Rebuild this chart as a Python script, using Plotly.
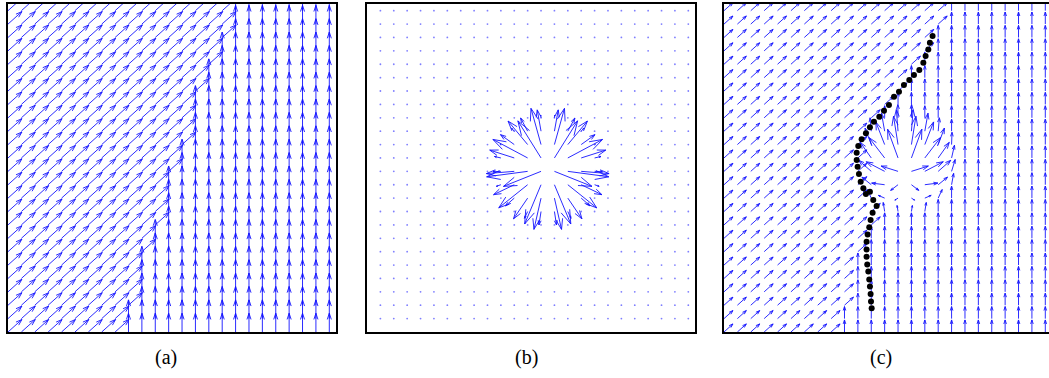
import numpy as np
import plotly.graph_objects as go

# ---------------------------------------------------------------------------
# Data
# ---------------------------------------------------------------------------
# sample lattice of the two-phase flow fields (a) and (c)
grid_x = np.arange(0, 25)
grid_y = np.arange(0, 25)
# sample lattice of the radial source field (b)
grid_xb = np.arange(1, 25)
grid_yb = np.arange(1, 25)

# direction of the slanted flow (degrees)
slant_angle = 42.0
# columns 9..16: height up to which the flow is upright (columns >= 17 fully upright)
upright_cols = [9, 10, 11, 12, 13, 14, 15, 16]
upright_top = [2.9, 6.1, 8.9, 12.1, 14.9, 18.1, 20.6, 22.3]

# radial source: centre and vector length versus distance from the centre
source_center = (13.5, 12.2)
radial_r = [0.0, 0.5, 1.0, 1.5, 2.0, 2.5, 3.0, 3.5, 4.0]
radial_len = [0.0, 3.0, 3.3, 3.1, 2.7, 2.1, 1.4, 0.6, 0.0]
radial_weight_c = 0.45

# evolved contour drawn on panel (c)
contour_x = [15.58, 15.38, 15.26, 15.06, 14.89, 14.59, 14.19, 13.84, 13.44, 13.07,
             12.70, 12.32, 11.95, 11.60, 11.20, 10.90, 10.60, 10.28, 10.03, 9.91,
             9.91, 9.98, 10.08, 10.21, 10.41, 10.60, 10.90, 11.15, 11.40, 11.10,
             10.95, 10.85, 10.73, 10.65, 10.65, 10.65, 10.70, 10.78, 10.85, 10.90,
             10.95, 10.98, 11.03]
contour_y = [22.11, 21.61, 21.11, 20.61, 20.11, 19.57, 19.19, 18.82, 18.45, 17.95,
             17.58, 16.95, 16.53, 16.08, 15.71, 15.29, 14.84, 14.39, 13.89, 13.39,
             12.85, 12.35, 11.80, 11.23, 10.73, 10.31, 10.48, 9.86, 9.41, 8.91,
             8.36, 7.82, 7.29, 6.75, 6.17, 5.63, 5.05, 4.51, 3.93, 3.39,
             2.84, 2.27, 1.77]

panel_labels = ["(a)", "(b)", "(c)"]

# ---------------------------------------------------------------------------
# Field construction
# ---------------------------------------------------------------------------
cx_arr = np.array(contour_x)
cy_arr = np.array(contour_y)
ang = np.deg2rad(slant_angle)
slant = np.array([np.cos(ang), np.sin(ang)])


def is_upright(x, y):
    if x >= 17:
        return True
    if x in upright_cols:
        return y <= upright_top[upright_cols.index(x)] - 1.0
    return False


def radial_vec(x, y):
    dx, dy = x - source_center[0], y - source_center[1]
    r = np.hypot(dx, dy)
    if r == 0:
        return 0.0, 0.0
    m = np.interp(r, radial_r, radial_len, right=0.0)
    return m * dx / r, m * dy / r


def right_of_contour(x, y):
    near = np.abs(cy_arr - y) < 0.6
    if not near.any():
        return False
    return x > cx_arr[near].min() + 0.3


def arrows(xs, ys, us, vs, alpha=0.33, beta=0.33):
    px, py = [], []
    for x, y, u, v in zip(xs, ys, us, vs):
        if np.hypot(u, v) < 1e-6:
            continue
        tx, ty = x + u, y + v
        px += [x, tx, None,
               tx - alpha * (u + beta * v), tx, tx - alpha * (u - beta * v), None]
        py += [y, ty, None,
               ty - alpha * (v - beta * u), ty, ty - alpha * (v + beta * u), None]
    return px, py


# (a) two-phase flow
ax_, ay_, au, av = [], [], [], []
La = 1.4
for x in grid_x:
    for y in grid_y:
        ax_.append(x); ay_.append(y)
        if is_upright(int(x), y):
            au.append(0.0); av.append(La)
        else:
            au.append(La * slant[0]); av.append(La * slant[1])

# (b) radial source
bx, by, bu, bv = [], [], [], []
dotx, doty = [], []
for x in grid_xb:
    for y in grid_yb:
        u, v = radial_vec(float(x), float(y))
        bx.append(x); by.append(y); bu.append(u); bv.append(v)
        if np.hypot(u, v) < 0.3:
            dotx.append(x); doty.append(y)

# (c) combined field
cxs, cys, cu, cv = [], [], [], []
Lc = 0.9
for x in grid_x:
    for y in grid_y:
        cxs.append(x); cys.append(y)
        if is_upright(int(x), y) or right_of_contour(x, y):
            ru, rv = radial_vec(float(x), float(y))
            cu.append(radial_weight_c * ru); cv.append(Lc + radial_weight_c * rv)
        else:
            cu.append(Lc * slant[0]); cv.append(Lc * slant[1])

# ---------------------------------------------------------------------------
# Figure
# ---------------------------------------------------------------------------
W, H = 1049, 378
unit = 328 / 24.5
line_style = dict(color="rgb(20,20,255)", width=0.9)

fig = go.Figure()
for (xs, ys, us, vs), sfx in [((ax_, ay_, au, av), ""),
                              ((bx, by, bu, bv), "2"),
                              ((cxs, cys, cu, cv), "3")]:
    px, py = arrows(xs, ys, us, vs)
    fig.add_trace(go.Scatter(x=px, y=py, mode="lines", line=line_style,
                             hoverinfo="skip", showlegend=False,
                             xaxis="x" + sfx, yaxis="y" + sfx))

fig.add_trace(go.Scatter(x=dotx, y=doty, mode="markers",
                         marker=dict(size=1.8, color="rgba(40,40,255,0.6)"),
                         hoverinfo="skip", showlegend=False, xaxis="x2", yaxis="y2"))

fig.add_trace(go.Scatter(x=contour_x, y=contour_y, mode="markers",
                         marker=dict(size=6, color="black"),
                         hoverinfo="skip", showlegend=False, xaxis="x3", yaxis="y3"))

ydom = [1 - 332 / H, 1 - 4 / H]
base = dict(showgrid=False, zeroline=False, showticklabels=False, ticks="",
            fixedrange=True)
framed = dict(base, showline=True, mirror=True, linecolor="black", linewidth=1.5)

fig.update_layout(
    width=W, height=H, margin=dict(l=0, r=0, t=0, b=0),
    paper_bgcolor="white", plot_bgcolor="white",
    xaxis=dict(framed, domain=[8 / W, 336 / W], range=[0, 24.5]),
    yaxis=dict(framed, domain=ydom, range=[0, 24.5]),
    xaxis2=dict(framed, domain=[367 / W, 695 / W], range=[0, 24.5]),
    yaxis2=dict(framed, domain=ydom, range=[0, 24.5], anchor="x2"),
    xaxis3=dict(framed, domain=[724 / W, 1.0], range=[0, (W - 724) / unit], anchor="y3"),
    yaxis3=dict(base, domain=ydom, range=[0, 24.5], anchor="x3",
                showline=True, mirror=False, linecolor="black", linewidth=1.5),
)
fig.layout.xaxis2.anchor = "y2"

for label, xc in zip(panel_labels, [166, 526, 881]):
    fig.add_annotation(x=xc / W, y=1 - 357 / H, xref="paper", yref="paper",
                       xanchor="center", yanchor="middle",
                       text=label, showarrow=False,
                       font=dict(family="Liberation Serif", size=20, color="black"))

fig.write_html("out.html")
